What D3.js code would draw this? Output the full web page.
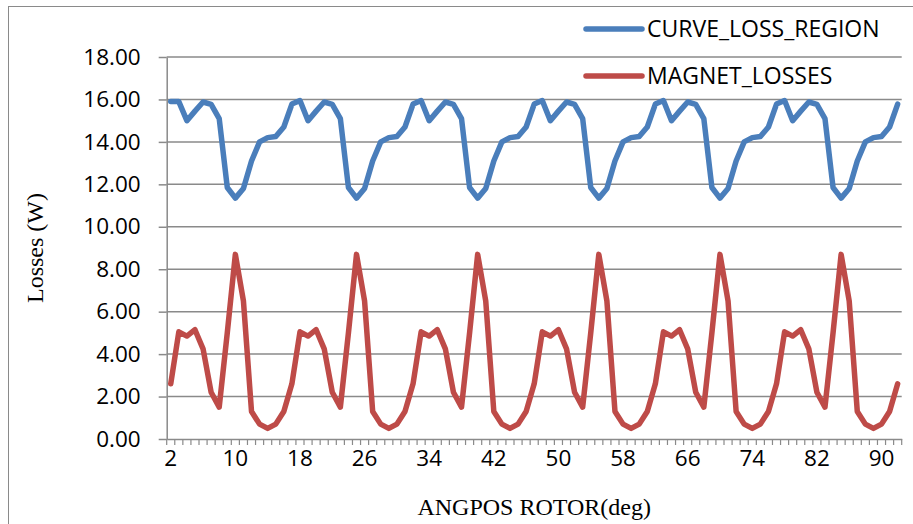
<!DOCTYPE html>
<html>
<head>
<meta charset="utf-8">
<script src="https://cdn.jsdelivr.net/npm/d3@7"></script>
<style>
  html, body { margin: 0; padding: 0; background: #fff; }
  svg { display: block; }
</style>
</head>
<body>
<svg id="chart" width="913" height="524"></svg>
<script>
// Rotor angle positions (deg), one sample per degree
const angles = d3.range(2, 93);

// Loss in the curved region (W)
const curveLossRegion = [
  15.90, 15.90, 15.00, 15.45, 15.88, 15.77, 15.10, 11.85, 11.35, 11.80, 13.10, 14.00, 14.20, 14.25, 14.70,
  15.78, 15.95, 15.00, 15.45, 15.88, 15.77, 15.10, 11.85, 11.35, 11.80, 13.10, 14.00, 14.20, 14.25, 14.70,
  15.78, 15.95, 15.00, 15.45, 15.88, 15.77, 15.10, 11.85, 11.35, 11.80, 13.10, 14.00, 14.20, 14.25, 14.70,
  15.78, 15.95, 15.00, 15.45, 15.88, 15.77, 15.10, 11.85, 11.35, 11.80, 13.10, 14.00, 14.20, 14.25, 14.70,
  15.78, 15.95, 15.00, 15.45, 15.88, 15.77, 15.10, 11.85, 11.35, 11.80, 13.10, 14.00, 14.20, 14.25, 14.70,
  15.78, 15.95, 15.00, 15.45, 15.88, 15.77, 15.10, 11.85, 11.35, 11.80, 13.10, 14.00, 14.20, 14.25, 14.70,
  15.78
];

// Magnet losses (W)
const magnetLosses = [
  2.60, 5.05, 4.85, 5.15, 4.25, 2.20, 1.50, 5.00, 8.70, 6.50, 1.30, 0.70, 0.50, 0.70, 1.30,
  2.60, 5.05, 4.85, 5.15, 4.25, 2.20, 1.50, 5.00, 8.70, 6.50, 1.30, 0.70, 0.50, 0.70, 1.30,
  2.60, 5.05, 4.85, 5.15, 4.25, 2.20, 1.50, 5.00, 8.70, 6.50, 1.30, 0.70, 0.50, 0.70, 1.30,
  2.60, 5.05, 4.85, 5.15, 4.25, 2.20, 1.50, 5.00, 8.70, 6.50, 1.30, 0.70, 0.50, 0.70, 1.30,
  2.60, 5.05, 4.85, 5.15, 4.25, 2.20, 1.50, 5.00, 8.70, 6.50, 1.30, 0.70, 0.50, 0.70, 1.30,
  2.60, 5.05, 4.85, 5.15, 4.25, 2.20, 1.50, 5.00, 8.70, 6.50, 1.30, 0.70, 0.50, 0.70, 1.30,
  2.60
];

const xTickLabels = [2, 10, 18, 26, 34, 42, 50, 58, 66, 74, 82, 90];
const yTicks = [0, 2, 4, 6, 8, 10, 12, 14, 16, 18];

const seriesNames = ["CURVE_LOSS_REGION", "MAGNET_LOSSES"];
const seriesColors = ["#4A7EBB", "#BE4B48"];
const seriesValues = [curveLossRegion, magnetLosses];

const svg = d3.select("#chart");
const gridColor = "#8a8a8a";
const sansFont = "'Open Sans', sans-serif";
const serifFont = "'Liberation Serif', 'Times New Roman', serif";

// Plot area
const plotLeft = 166.7, plotRight = 901.7, plotTop = 57, plotBottom = 439;

const x = d3.scaleBand().domain(angles).range([plotLeft, plotRight]).paddingInner(0).paddingOuter(0);
const xc = d => x(d) + x.bandwidth() / 2;
const y = d3.scaleLinear().domain([0, 18]).range([plotBottom, plotTop]);

// Outer chart frame
svg.append("rect")
  .attr("x", 8.5).attr("y", 6.5)
  .attr("width", 930).attr("height", 540)
  .attr("fill", "none")
  .attr("stroke", gridColor)
  .attr("stroke-width", 1);

// Horizontal gridlines
svg.append("g")
  .selectAll("line")
  .data(yTicks.filter(v => v > 0))
  .join("line")
  .attr("x1", plotLeft).attr("x2", plotRight)
  .attr("y1", d => y(d)).attr("y2", d => y(d))
  .attr("stroke", gridColor)
  .attr("stroke-width", 1.5);

// Y axis
const yAxis = svg.append("g")
  .attr("transform", `translate(${plotLeft},0)`)
  .call(d3.axisLeft(y).tickValues(yTicks).tickFormat(d3.format(".2f")).tickSize(8).tickSizeOuter(0).tickPadding(18));
yAxis.select(".domain").attr("stroke", gridColor).attr("stroke-width", 1.5);
yAxis.selectAll(".tick line").attr("stroke", gridColor).attr("stroke-width", 1.5);
yAxis.selectAll(".tick text")
  .attr("font-family", sansFont)
  .attr("font-size", 22.5)
  .attr("fill", "#000");

// X axis: labels every 8 degrees, tick marks at category boundaries
const xAxis = svg.append("g")
  .attr("transform", `translate(0,${plotBottom})`)
  .call(d3.axisBottom(x).tickValues(xTickLabels).tickSize(0).tickPadding(11));
xAxis.select(".domain").attr("stroke", gridColor).attr("stroke-width", 1.5);
xAxis.selectAll(".tick text")
  .attr("font-family", sansFont)
  .attr("font-size", 22.5)
  .attr("fill", "#000");

const boundaries = angles.map(a => x(a)).concat([x(angles[angles.length - 1]) + x.bandwidth()]);
svg.append("g")
  .selectAll("line")
  .data(boundaries)
  .join("line")
  .attr("x1", d => d).attr("x2", d => d)
  .attr("y1", plotBottom).attr("y2", plotBottom + 6)
  .attr("stroke", gridColor)
  .attr("stroke-width", 1.2);

// Series lines
const line = d3.line()
  .x((d, i) => xc(angles[i]))
  .y(d => y(d));

svg.append("g")
  .selectAll("path")
  .data(seriesValues)
  .join("path")
  .attr("d", d => line(d))
  .attr("fill", "none")
  .attr("stroke", (d, i) => seriesColors[i])
  .attr("stroke-width", 5.5)
  .attr("stroke-linejoin", "round")
  .attr("stroke-linecap", "round");

// Axis titles
svg.append("text")
  .attr("x", (plotLeft + plotRight) / 2)
  .attr("y", 515)
  .attr("text-anchor", "middle")
  .attr("font-family", serifFont)
  .attr("font-size", 24)
  .attr("fill", "#000")
  .text("ANGPOS ROTOR(deg)");

svg.append("text")
  .attr("transform", `translate(43,${(plotTop + plotBottom) / 2}) rotate(-90)`)
  .attr("text-anchor", "middle")
  .attr("font-family", serifFont)
  .attr("font-size", 24)
  .attr("fill", "#000")
  .text("Losses (W)");

// Legend
const legend = svg.append("g")
  .selectAll("g")
  .data(seriesNames)
  .join("g")
  .attr("transform", (d, i) => `translate(586,${29 + i * 47})`);
legend.append("line")
  .attr("x1", 0).attr("x2", 56)
  .attr("y1", 0).attr("y2", 0)
  .attr("stroke", (d, i) => seriesColors[i])
  .attr("stroke-width", 5.5)
  .attr("stroke-linecap", "round");
legend.append("text")
  .attr("x", 61)
  .attr("y", 7.5)
  .attr("font-family", sansFont)
  .attr("font-size", 23)
  .attr("fill", "#000")
  .text(d => d);
</script>
</body>
</html>
